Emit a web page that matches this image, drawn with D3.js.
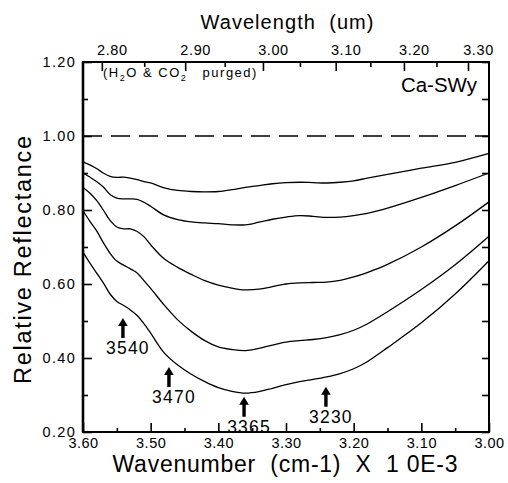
<!DOCTYPE html>
<html>
<head>
<meta charset="utf-8">
<script src="https://cdn.jsdelivr.net/npm/d3@7"></script>
<style>
  html, body { margin: 0; padding: 0; background: #fff; }
  svg { display: block; font-family: "Liberation Sans", Arial, sans-serif; }
  svg text { white-space: pre; }
  .curve { fill: none; stroke: #000; stroke-width: 1.3; }
</style>
</head>
<body>
<div id="chart"></div>
<script>
const WIDTH = 508;
const HEIGHT = 483;
const PLOT = { left: 83, right: 489, top: 62, bottom: 432 };

// wavenumber (cm-1 x 1e-3) grid the curves were read at
const wavenumber = [3.60, 3.59, 3.58, 3.57, 3.56, 3.55, 3.54, 3.53, 3.52, 3.51, 3.50,
  3.48, 3.46, 3.44, 3.42, 3.40, 3.38, 3.36, 3.34, 3.32, 3.30, 3.28, 3.26, 3.24,
  3.22, 3.20, 3.18, 3.15, 3.10, 3.05, 3.00];

// relative reflectance, top curve to bottom curve
const curve1 = [0.930, 0.922, 0.912, 0.900, 0.891, 0.888, 0.889, 0.886, 0.882, 0.877, 0.873,
  0.860, 0.853, 0.850, 0.849, 0.850, 0.855, 0.861, 0.866, 0.871, 0.874, 0.875, 0.874, 0.873,
  0.875, 0.879, 0.886, 0.896, 0.913, 0.929, 0.953];
const curve2 = [0.900, 0.889, 0.877, 0.862, 0.842, 0.832, 0.830, 0.830, 0.829, 0.821, 0.810,
  0.786, 0.774, 0.768, 0.765, 0.763, 0.760, 0.760, 0.767, 0.775, 0.781, 0.785, 0.783, 0.780,
  0.781, 0.785, 0.791, 0.805, 0.834, 0.866, 0.900];
const curve3 = [0.861, 0.846, 0.826, 0.800, 0.772, 0.754, 0.749, 0.749, 0.742, 0.728, 0.706,
  0.668, 0.645, 0.626, 0.609, 0.597, 0.589, 0.584, 0.586, 0.593, 0.600, 0.603, 0.604, 0.605,
  0.610, 0.619, 0.631, 0.653, 0.700, 0.757, 0.822];
const curve4 = [0.798, 0.770, 0.744, 0.712, 0.683, 0.662, 0.651, 0.641, 0.630, 0.609, 0.588,
  0.543, 0.503, 0.472, 0.447, 0.430, 0.423, 0.420, 0.426, 0.435, 0.443, 0.447, 0.450, 0.455,
  0.463, 0.475, 0.492, 0.525, 0.585, 0.652, 0.729];
const curve5 = [0.686, 0.657, 0.630, 0.603, 0.573, 0.553, 0.542, 0.530, 0.515, 0.493, 0.467,
  0.414, 0.381, 0.356, 0.336, 0.320, 0.310, 0.305, 0.309, 0.318, 0.328, 0.336, 0.342, 0.349,
  0.358, 0.371, 0.390, 0.428, 0.495, 0.573, 0.663];
const curves = [curve1, curve2, curve3, curve4, curve5];

const referenceLevel = 1.00;

// absorption band arrows: label, wavenumber position, reflectance at the arrow tip
const bandLabels = ['3540', '3470', '3365', '3230'];
const bandWn = [3.541, 3.473, 3.362, 3.241];
const bandTip = [0.508, 0.376, 0.295, 0.322];

// axes
const wnMajor = [3.60, 3.50, 3.40, 3.30, 3.20, 3.10, 3.00];
const wnMinor = [3.55, 3.45, 3.35, 3.25, 3.15, 3.05];
const reflMajor = [0.20, 0.40, 0.60, 0.80, 1.00, 1.20];
const reflMinor = [0.30, 0.50, 0.70, 0.90, 1.10];
const umMajor = [2.80, 2.90, 3.00, 3.10, 3.20, 3.30];
const umMinor = [2.85, 2.95, 3.05, 3.15, 3.25];

const svg = d3.select('#chart').append('svg')
  .attr('width', WIDTH)
  .attr('height', HEIGHT);

const x = d3.scaleLinear().domain([3.60, 3.00]).range([PLOT.left, PLOT.right]);
const y = d3.scaleLinear().domain([0.20, 1.20]).range([PLOT.bottom, PLOT.top]);
const umToX = (um) => x(10 / um);

// bottom axis, ticks pointing inward
const bottomAxis = svg.append('g')
  .attr('transform', `translate(0,${PLOT.bottom})`)
  .call(d3.axisBottom(x).tickValues(wnMajor).tickSize(-9).tickPadding(6)
    .tickFormat(d3.format('.2f')));
svg.append('g')
  .attr('transform', `translate(0,${PLOT.bottom})`)
  .call(d3.axisBottom(x).tickValues(wnMinor).tickSize(-4).tickFormat(''));

// left axis
const leftAxis = svg.append('g')
  .attr('transform', `translate(${PLOT.left},0)`)
  .call(d3.axisLeft(y).tickValues(reflMajor).tickSize(-9).tickPadding(7)
    .tickFormat(d3.format('.2f')));
svg.append('g')
  .attr('transform', `translate(${PLOT.left},0)`)
  .call(d3.axisLeft(y).tickValues(reflMinor).tickSize(-5).tickFormat(''));

// right axis, ticks only
svg.append('g')
  .attr('transform', `translate(${PLOT.right},0)`)
  .call(d3.axisRight(y).tickValues(reflMajor.concat(reflMinor)).tickSize(-7).tickFormat(''));

svg.selectAll('.domain').remove();
svg.selectAll('.tick line').attr('stroke', '#000').attr('stroke-width', 1.6);
bottomAxis.selectAll('text')
  .attr('font-size', 14.5).attr('fill', '#000').attr('letter-spacing', 0.5)
  .attr('font-family', '"Liberation Sans", Arial, sans-serif');
leftAxis.selectAll('text')
  .attr('font-size', 14.5).attr('fill', '#000').attr('letter-spacing', 1.3)
  .attr('font-family', '"Liberation Sans", Arial, sans-serif');

// top axis: wavelength in um, placed through the wavenumber scale
const topAxis = svg.append('g');
topAxis.selectAll('line.major').data(umMajor).enter().append('line')
  .attr('class', 'major')
  .attr('x1', (d) => umToX(d)).attr('x2', (d) => umToX(d))
  .attr('y1', PLOT.top).attr('y2', PLOT.top + 9)
  .attr('stroke', '#000').attr('stroke-width', 1.6);
topAxis.selectAll('line.minor').data(umMinor).enter().append('line')
  .attr('class', 'minor')
  .attr('x1', (d) => umToX(d)).attr('x2', (d) => umToX(d))
  .attr('y1', PLOT.top).attr('y2', PLOT.top + 5)
  .attr('stroke', '#000').attr('stroke-width', 1.6);
topAxis.selectAll('text').data(umMajor).enter().append('text')
  .attr('x', (d) => umToX(d) + 10)
  .attr('y', 55)
  .attr('text-anchor', 'middle')
  .attr('font-size', 14.5)
  .attr('letter-spacing', 0.6)
  .text((d) => d.toFixed(2));

// frame
svg.append('rect')
  .attr('x', PLOT.left).attr('y', PLOT.top)
  .attr('width', PLOT.right - PLOT.left).attr('height', PLOT.bottom - PLOT.top)
  .attr('fill', 'none').attr('stroke', '#000').attr('stroke-width', 2);
svg.append('line')
  .attr('x1', PLOT.left).attr('x2', PLOT.left)
  .attr('y1', PLOT.top).attr('y2', PLOT.bottom)
  .attr('stroke', '#000').attr('stroke-width', 2.6);

// 100% reference line
svg.append('line')
  .attr('x1', PLOT.left).attr('x2', PLOT.right)
  .attr('y1', y(referenceLevel)).attr('y2', y(referenceLevel))
  .attr('stroke', '#000').attr('stroke-width', 1.5)
  .attr('stroke-dasharray', '19 9');

// spectra
const line = d3.line()
  .x((d, i) => x(wavenumber[i]))
  .y((d) => y(d))
  .curve(d3.curveCatmullRom.alpha(0.5));

svg.append('g').selectAll('path')
  .data(curves)
  .enter().append('path')
  .attr('class', 'curve')
  .attr('d', line);

// band arrows + labels
const bands = svg.append('g').selectAll('g')
  .data(bandLabels)
  .enter().append('g')
  .attr('transform', (d, i) => `translate(${x(bandWn[i])},${y(bandTip[i])})`);

bands.append('path')
  .attr('d', 'M0,0 L4.8,8 L1.7,8 L1.7,20 L-1.7,20 L-1.7,8 L-4.8,8 Z')
  .attr('fill', '#000');

bands.append('text')
  .attr('x', 5)
  .attr('y', 36)
  .attr('text-anchor', 'middle')
  .attr('font-size', 17.5)
  .attr('letter-spacing', 1.2)
  .text((d) => d);

// titles
svg.append('text')
  .attr('x', 287).attr('y', 29)
  .attr('text-anchor', 'middle')
  .attr('font-size', 20)
  .attr('textLength', 173).attr('lengthAdjust', 'spacing')
  .text('Wavelength  (um)');

svg.append('text')
  .attr('x', 285).attr('y', 472)
  .attr('text-anchor', 'middle')
  .attr('font-size', 23)
  .attr('textLength', 345).attr('lengthAdjust', 'spacing')
  .text('Wavenumber  (cm-1)  X  1 0E-3');

svg.append('text')
  .attr('transform', 'translate(31,260) rotate(-90)')
  .attr('text-anchor', 'middle')
  .attr('font-size', 23.5)
  .attr('textLength', 248).attr('lengthAdjust', 'spacing')
  .text('Relative Reflectance');

svg.append('text')
  .attr('x', 477).attr('y', 92)
  .attr('text-anchor', 'end')
  .attr('font-size', 20.5)
  .text('Ca-SWy');

const note = svg.append('text')
  .attr('x', 103).attr('y', 77)
  .attr('font-size', 13)
  .attr('letter-spacing', 1.5);
note.append('tspan').text('(H');
note.append('tspan').attr('font-size', 9).attr('dy', 4).text('2');
note.append('tspan').attr('dy', -4).text('O & CO');
note.append('tspan').attr('font-size', 9).attr('dy', 4).text('2');
note.append('tspan').attr('dy', -4).text('   purged)');
</script>
</body>
</html>
